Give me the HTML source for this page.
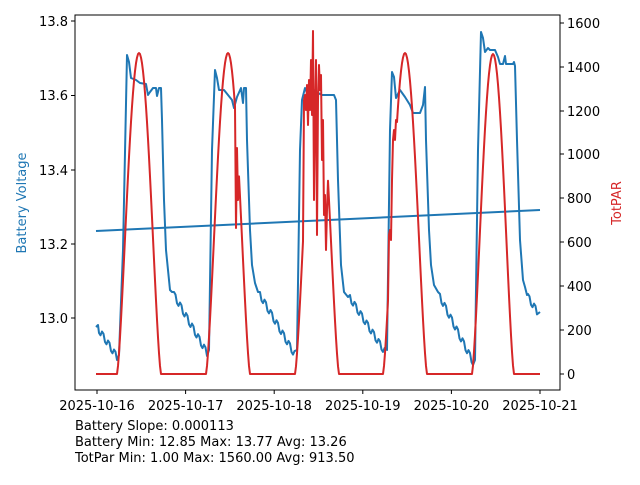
<!DOCTYPE html><html><head><style>body{margin:0;background:#fff}svg text{font-family:"DejaVu Sans","Liberation Sans",sans-serif}</style></head><body>
<svg id="s" width="640" height="480" xmlns="http://www.w3.org/2000/svg">
<rect width="640" height="480" fill="#fff"/>
<g id="plot"></g>
<rect x="75" y="15" width="485" height="375" fill="none" stroke="#000" stroke-width="1"/>
<g font-size="13" fill="#000">
<g stroke="#000"><line x1="75" x2="71" y1="21" y2="21"/><line x1="75" x2="71" y1="95.5" y2="95.5"/><line x1="75" x2="71" y1="170" y2="170"/><line x1="75" x2="71" y1="244" y2="244"/><line x1="75" x2="71" y1="318" y2="318"/></g>
<text x="68" y="26" text-anchor="end">13.8</text><text x="68" y="100" text-anchor="end">13.6</text><text x="68" y="175" text-anchor="end">13.4</text><text x="68" y="249" text-anchor="end">13.2</text><text x="68" y="323" text-anchor="end">13.0</text>
<g stroke="#000"><line x1="560" x2="564" y1="374" y2="374"/><line x1="560" x2="564" y1="330" y2="330"/><line x1="560" x2="564" y1="286" y2="286"/><line x1="560" x2="564" y1="242" y2="242"/><line x1="560" x2="564" y1="198" y2="198"/><line x1="560" x2="564" y1="154" y2="154"/><line x1="560" x2="564" y1="111" y2="111"/><line x1="560" x2="564" y1="67" y2="67"/><line x1="560" x2="564" y1="23" y2="23"/></g>
<text x="567" y="379">0</text><text x="567" y="335">200</text><text x="567" y="291">400</text><text x="567" y="247">600</text><text x="567" y="203">800</text><text x="567" y="159">1000</text><text x="567" y="116">1200</text><text x="567" y="72">1400</text><text x="567" y="28">1600</text>
<g stroke="#000"><line y1="390" y2="394" x1="97" x2="97"/><line y1="390" y2="394" x1="185.6" x2="185.6"/><line y1="390" y2="394" x1="274.2" x2="274.2"/><line y1="390" y2="394" x1="362.8" x2="362.8"/><line y1="390" y2="394" x1="451.4" x2="451.4"/><line y1="390" y2="394" x1="540" x2="540"/></g>
<text x="97" y="410" text-anchor="middle">2025-10-16</text><text x="185.6" y="410" text-anchor="middle">2025-10-17</text><text x="274.2" y="410" text-anchor="middle">2025-10-18</text><text x="362.8" y="410" text-anchor="middle">2025-10-19</text><text x="451.4" y="410" text-anchor="middle">2025-10-20</text><text x="540" y="410" text-anchor="middle">2025-10-21</text>
<text transform="translate(26,203) rotate(-90)" text-anchor="middle" fill="#1f77b4">Battery Voltage</text>
<text transform="translate(621,203) rotate(-90)" text-anchor="middle" fill="#d62728">TotPAR</text>
<text x="75" y="430">Battery Slope: 0.000113</text>
<text x="75" y="446">Battery Min: 12.85 Max: 13.77 Avg: 13.26</text>
<text x="75" y="462">TotPar Min: 1.00 Max: 1560.00 Avg: 913.50</text>
</g>
</svg>
<script>
var g=document.getElementById('plot'),NS='http://www.w3.org/2000/svg';
function pl(pts,c){var p=document.createElementNS(NS,'polyline');p.setAttribute('points',pts.map(function(a){return a[0].toFixed(1)+','+a[1].toFixed(1)}).join(' '));p.setAttribute('fill','none');p.setAttribute('stroke',c);p.setAttribute('stroke-width','2');p.setAttribute('stroke-linejoin','round');g.appendChild(p);}
var b=[];
function saw(x0,x1,y0,y1){for(var x=x0;x<=x1;x+=1.5){var t=(x-x0)/(x1-x0);b.push([x,y0+(y1-y0)*t+((Math.round(x/1.5)%4)<2?-3:3)]);}}
b.push([96,327],[98,325]);saw(99,117,330,357);
b.push([119,355],[123,250],[127,55],[129,62],[131,78],[136,80],[140,83],[146,84],[148,95],[150,92],[153,88],[156,88],[157,96],[159,88],[161,88],[162,120],[164,200],[166,250],[168,270],[170,290],[172,292]);saw(174,207,295,353);
b.push([209,350],[212,150],[215,70],[217,78],[219,90],[224,90],[228,95],[232,100],[234,108],[237,97],[241,88],[243,103],[244,88],[246,88],[247,140],[250,230],[252,265],[255,283],[258,292]);saw(260,295,295,355);
b.push([297,350],[300,150],[302,100],[305,88],[308,95],[311,88],[316,92],[322,95],[330,95],[334,95],[336,100],[338,180],[341,265],[344,292],[348,297]);saw(350,385,298,352);
b.push([387,350],[390,130],[392,72],[394,77],[396,98],[400,90],[405,97],[410,105],[413,113],[416,113],[420,113],[423,105],[425,87],[426,140],[429,230],[431,265],[434,285],[438,292]);saw(440,473,297,362);
b.push([475,360],[478,150],[481,32],[483,38],[485,52],[488,48],[490,50],[495,50],[498,57],[500,64],[503,64],[505,56],[506,64],[510,64],[513,64],[514,62],[515,66],[517,140],[520,240],[523,280],[525,287],[527,295]);saw(528,538,297,313);b.push([540,312]);
pl(b,'#1f77b4');
pl([[96,231],[540,210]],'#1f77b4');
var r=[];var peaks=[[139,53,22],[228,53,22],[317,60,22],[405,53,22],[493,54,21]];
var d3={304:100,305:95,306:110,307:85,308:125,309:80,310:110,311:60,312:115,313:31,314:200,315:110,316:60,317:235,318:100,319:65,320:90,321:75,322:160,323:120,324:215,325:195,326:250,327:210};
r.push([96,374]);
peaks.forEach(function(p,i){var c=p[0],w=p[2];for(var x=c-w-3;x<=c+w+3;x+=1){var t=(x-c)/w;var h=Math.abs(t)<1?Math.pow(Math.cos(t*Math.PI/2),1.4):0;var y=374-(374-p[1])*h;
if(i==1&&x>=236&&x<=238)y=x==236?228:(x==237?148:200);
if(i==2&&d3[x]!==undefined)y=d3[x];
if(i==3&&x>=389&&x<=396){y=[235,230,240,180,140,130,140,120][x-389];}
r.push([x,y]);}});
r.push([540,374]);
pl(r,'#d62728');
</script>
</body></html>
